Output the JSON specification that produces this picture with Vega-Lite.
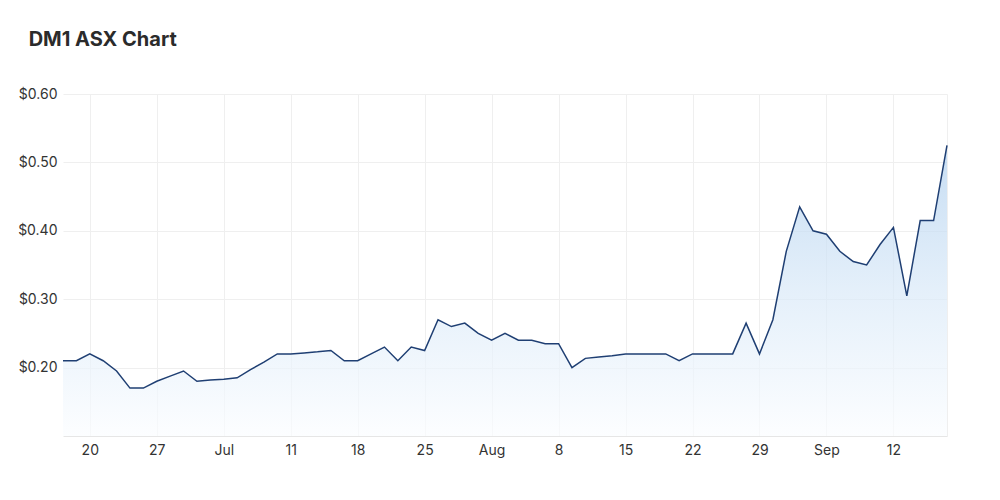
{
  "$schema": "https://vega.github.io/schema/vega-lite/v6.json",
  "autosize": {"type": "none"},
  "padding": {"left": 63, "top": 94, "right": 53, "bottom": 64},
  "width": 884,
  "height": 342,
  "title": {
    "text": "DM1 ASX Chart",
    "anchor": "start",
    "font": "Inter",
    "fontSize": 20,
    "fontWeight": "bold",
    "color": "#2b2b2b",
    "dx": 11,
    "offset": 37
  },
  "data": {
    "values": [
      {"date": "2022-06-16", "price": 0.21},
      {"date": "2022-06-17", "price": 0.21},
      {"date": "2022-06-20", "price": 0.22},
      {"date": "2022-06-21", "price": 0.21},
      {"date": "2022-06-22", "price": 0.195},
      {"date": "2022-06-23", "price": 0.17},
      {"date": "2022-06-24", "price": 0.17},
      {"date": "2022-06-27", "price": 0.18},
      {"date": "2022-06-28", "price": 0.1875},
      {"date": "2022-06-29", "price": 0.195},
      {"date": "2022-06-30", "price": 0.18},
      {"date": "2022-07-01", "price": 0.182},
      {"date": "2022-07-04", "price": 0.183},
      {"date": "2022-07-05", "price": 0.185},
      {"date": "2022-07-06", "price": 0.197},
      {"date": "2022-07-07", "price": 0.208},
      {"date": "2022-07-08", "price": 0.22},
      {"date": "2022-07-11", "price": 0.22},
      {"date": "2022-07-12", "price": 0.2215},
      {"date": "2022-07-13", "price": 0.223},
      {"date": "2022-07-14", "price": 0.225},
      {"date": "2022-07-15", "price": 0.21},
      {"date": "2022-07-18", "price": 0.21},
      {"date": "2022-07-19", "price": 0.22},
      {"date": "2022-07-20", "price": 0.23},
      {"date": "2022-07-21", "price": 0.21},
      {"date": "2022-07-22", "price": 0.23},
      {"date": "2022-07-25", "price": 0.225},
      {"date": "2022-07-26", "price": 0.27},
      {"date": "2022-07-27", "price": 0.26},
      {"date": "2022-07-28", "price": 0.265},
      {"date": "2022-07-29", "price": 0.25},
      {"date": "2022-08-01", "price": 0.24},
      {"date": "2022-08-02", "price": 0.25},
      {"date": "2022-08-03", "price": 0.24},
      {"date": "2022-08-04", "price": 0.24},
      {"date": "2022-08-05", "price": 0.235},
      {"date": "2022-08-08", "price": 0.235},
      {"date": "2022-08-09", "price": 0.2},
      {"date": "2022-08-10", "price": 0.2135},
      {"date": "2022-08-11", "price": 0.2155},
      {"date": "2022-08-12", "price": 0.2175},
      {"date": "2022-08-15", "price": 0.22},
      {"date": "2022-08-16", "price": 0.22},
      {"date": "2022-08-17", "price": 0.22},
      {"date": "2022-08-18", "price": 0.22},
      {"date": "2022-08-19", "price": 0.21},
      {"date": "2022-08-22", "price": 0.22},
      {"date": "2022-08-23", "price": 0.22},
      {"date": "2022-08-24", "price": 0.22},
      {"date": "2022-08-25", "price": 0.22},
      {"date": "2022-08-26", "price": 0.265},
      {"date": "2022-08-29", "price": 0.22},
      {"date": "2022-08-30", "price": 0.27},
      {"date": "2022-08-31", "price": 0.37},
      {"date": "2022-09-01", "price": 0.435},
      {"date": "2022-09-02", "price": 0.4},
      {"date": "2022-09-05", "price": 0.395},
      {"date": "2022-09-06", "price": 0.37},
      {"date": "2022-09-07", "price": 0.355},
      {"date": "2022-09-08", "price": 0.35},
      {"date": "2022-09-09", "price": 0.38},
      {"date": "2022-09-12", "price": 0.405},
      {"date": "2022-09-13", "price": 0.305},
      {"date": "2022-09-14", "price": 0.415},
      {"date": "2022-09-15", "price": 0.415},
      {"date": "2022-09-16", "price": 0.525}
    ]
  },
  "mark": {
    "type": "area",
    "color": {
      "gradient": "linear",
      "x1": 1, "y1": 1, "x2": 1, "y2": 0,
      "stops": [
        {"offset": 0, "color": "#fbfdff"},
        {"offset": 0.5, "color": "#d9e9f8"},
        {"offset": 1, "color": "#afcfee"}
      ]
    },
    "line": {"color": "#1f3f73", "strokeWidth": 1.5}
  },
  "encoding": {
    "x": {
      "field": "date",
      "type": "ordinal",
      "scale": {"type": "point", "padding": 0},
      "axis": {
        "title": null,
        "labelAngle": 0,
        "values": ["2022-06-20", "2022-06-27", "2022-07-04", "2022-07-11", "2022-07-18", "2022-07-25", "2022-08-01", "2022-08-08", "2022-08-15", "2022-08-22", "2022-08-29", "2022-09-05", "2022-09-12", "2022-09-16"],
        "labelExpr": "datum.value == '2022-09-16' ? '' : (utcdate(toDate(datum.value)) <= 7 ? utcFormat(toDate(datum.value), '%b') : '' + utcdate(toDate(datum.value)))",
        "ticks": false,
        "grid": true,
        "labelPadding": 7,
        "domainColor": "#e6e6e6"
      }
    },
    "y": {
      "field": "price",
      "type": "quantitative",
      "scale": {"domain": [0.1, 0.6], "nice": false, "zero": false},
      "axis": {
        "title": null,
        "values": [0.2, 0.3, 0.4, 0.5, 0.6],
        "format": "$.2f",
        "ticks": false,
        "domain": false,
        "labelPadding": 6
      }
    },
    "y2": {"datum": 0.1}
  },
  "config": {
    "view": {"stroke": null},
    "axis": {
      "labelFont": "Inter",
      "labelFontSize": 14,
      "labelColor": "#333333",
      "gridColor": "#efefef",
      "gridWidth": 1
    }
  }
}
